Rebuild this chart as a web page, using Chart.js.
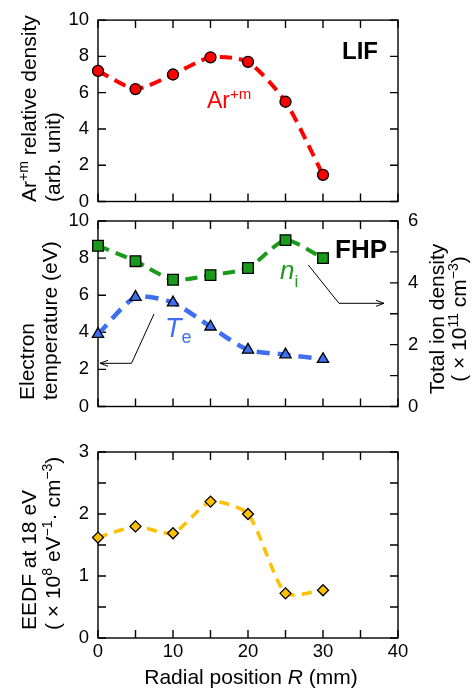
<!DOCTYPE html>
<html><head><meta charset="utf-8">
<script src="https://cdn.jsdelivr.net/npm/chart.js@4.4.0/dist/chart.umd.min.js"></script>
<style>
html,body{margin:0;padding:0;background:#fff;}
#wrap{position:relative;width:475px;height:691px;overflow:hidden;}
canvas{position:absolute;left:0;top:0;}
</style></head><body>
<div id="wrap">
<canvas id="c1" width="475" height="691"></canvas>
<canvas id="c2" width="475" height="691"></canvas>
<canvas id="c3" width="475" height="691"></canvas>
</div>
<script>
// ---------- data ----------
const radialPositions = [0, 5, 10, 15, 20, 25, 30];
const arDensity      = [7.2, 6.2, 7.0, 7.95, 7.7, 5.5, 1.47];
const electronTemp   = [3.9, 5.9, 5.6, 4.3, 3.05, 2.8, 2.55];
const ionDensity     = [5.2, 4.7, 4.1, 4.25, 4.48, 5.38, 4.8];
const eedf18         = [1.62, 1.80, 1.69, 2.20, 2.00, 0.72, 0.77];

const xTickLabels   = [0, 10, 20, 30, 40];
const xTickMarks    = [0, 5, 10, 15, 20, 25, 30, 35, 40];
const arTicks       = [0, 2, 4, 6, 8, 10];
const teTicks       = [0, 2, 4, 6, 8, 10];
const ionTickLabels = [0, 2, 4, 6];
const ionTickMarks  = [0, 1, 2, 3, 4, 5, 6];
const eedfTickLabels = [0, 1, 2, 3];
const eedfTickMarks  = [0, 0.5, 1, 1.5, 2, 2.5, 3];

// ---------- styling ----------
const FAM = '"Liberation Sans", Arial, Helvetica, sans-serif';
const TICKFONT = {family: FAM, size: 18.5};
const RED = '#ff0000', GREEN = '#1a9a1a', BLUE = '#3d6ff0', GOLD = '#ffc000';
const W = 475, H = 691;
const TENSION = 0.22;

function pts(xs, ys) { return xs.map((x, i) => ({x: x, y: ys[i]})); }
function fixedTicks(arr) { return function (s) { s.ticks = arr.map(v => ({value: v})); }; }

const framePlugin = {
  id: 'frame',
  beforeDatasetsDraw(chart, args, o) {
    const ctx = chart.ctx, a = chart.chartArea, L = 8;
    ctx.save();
    ctx.strokeStyle = '#000';
    ctx.lineWidth = 1.4;
    ctx.strokeRect(a.left, a.top, a.right - a.left, a.bottom - a.top);
    ctx.beginPath();
    const xs = chart.scales.x;
    o.xMarks.forEach(v => {
      const p = xs.getPixelForValue(v);
      ctx.moveTo(p, a.bottom); ctx.lineTo(p, a.bottom - L);
      ctx.moveTo(p, a.top); ctx.lineTo(p, a.top + L);
    });
    const ls = chart.scales[o.leftScale];
    o.leftMarks.forEach(v => {
      const p = ls.getPixelForValue(v);
      ctx.moveTo(a.left, p); ctx.lineTo(a.left + L, p);
    });
    const rs = chart.scales[o.rightScale];
    o.rightMarks.forEach(v => {
      const p = rs.getPixelForValue(v);
      ctx.moveTo(a.right, p); ctx.lineTo(a.right - L, p);
    });
    ctx.stroke();
    ctx.restore();
  }
};

// rich text: segments {t,size,dy,style,weight,color}
function drawRich(ctx, segs, x, y, rot, align, color) {
  ctx.save();
  ctx.translate(x, y);
  ctx.rotate(rot || 0);
  ctx.textBaseline = 'alphabetic';
  ctx.textAlign = 'left';
  let total = 0;
  segs.forEach(s => {
    ctx.font = (s.style || 'normal') + ' ' + (s.weight || 'normal') + ' ' + s.size + 'px ' + FAM;
    s._w = ctx.measureText(s.t).width;
    total += s._w;
  });
  let cx = align === 'center' ? -total / 2 : (align === 'right' ? -total : 0);
  segs.forEach(s => {
    ctx.font = (s.style || 'normal') + ' ' + (s.weight || 'normal') + ' ' + s.size + 'px ' + FAM;
    ctx.fillStyle = s.color || color || '#000';
    ctx.fillText(s.t, cx, s.dy || 0);
    cx += s._w;
  });
  ctx.restore();
}

function arrow(ctx, pts, dir) {
  ctx.save();
  ctx.strokeStyle = '#000';
  ctx.lineWidth = 1;
  ctx.beginPath();
  ctx.moveTo(pts[0][0], pts[0][1]);
  for (let i = 1; i < pts.length; i++) ctx.lineTo(pts[i][0], pts[i][1]);
  const t = pts[pts.length - 1];
  ctx.moveTo(t[0] - dir * 8, t[1] - 3);
  ctx.lineTo(t[0], t[1]);
  ctx.lineTo(t[0] - dir * 8, t[1] + 3);
  ctx.stroke();
  ctx.restore();
}

const R90 = -Math.PI / 2;
const textPlugin = {
  id: 'texts',
  afterDraw(chart) {
    const ctx = chart.ctx;
    // panel labels
    drawRich(ctx, [{t: 'LIF', size: 24, weight: 'bold'}], 342, 58.5, 0, 'left');
    drawRich(ctx, [{t: 'FHP', size: 26, weight: 'bold'}], 335, 258, 0, 'left');
    // series labels
    drawRich(ctx, [{t: 'Ar', size: 23}, {t: '+m', size: 15, dy: -9}], 207, 108, 0, 'left', RED);
    drawRich(ctx, [{t: 'n', size: 26, style: 'italic'}, {t: 'i', size: 17, dy: 8}], 280, 279, 0, 'left', GREEN);
    drawRich(ctx, [{t: 'T', size: 27, style: 'italic'}, {t: 'e', size: 18, dy: 6}], 165, 337, 0, 'left', BLUE);
    // arrows
    arrow(ctx, [[154, 314], [131.5, 363.3], [100, 363.3]], -1);
    arrow(ctx, [[308.3, 265], [339, 303.3], [384, 303.3]], 1);
    // axis titles
    drawRich(ctx, [{t: 'Ar', size: 21}, {t: '+m', size: 14, dy: -8}, {t: ' relative density', size: 21}], 36, 202, R90, 'left');
    drawRich(ctx, [{t: '(arb. unit)', size: 21}], 60, 202, R90, 'left');
    drawRich(ctx, [{t: 'Electron', size: 21}], 34, 400, R90, 'left');
    drawRich(ctx, [{t: 'temperature (eV)', size: 21}], 57, 400, R90, 'left');
    drawRich(ctx, [{t: 'Total ion density', size: 21}], 444, 319, R90, 'center');
    drawRich(ctx, [{t: '( \u00d7 10', size: 21}, {t: '11', size: 14, dy: -8}, {t: ' cm', size: 21}, {t: '\u22123', size: 14, dy: -8}, {t: ')', size: 21}], 466, 319, R90, 'center');
    drawRich(ctx, [{t: 'EEDF at 18 eV', size: 21}], 36, 630, R90, 'left');
    drawRich(ctx, [{t: '( \u00d7 10', size: 21}, {t: '8', size: 14, dy: -8}, {t: ' eV', size: 21}, {t: '\u22121', size: 14, dy: -8}, {t: '\u00b7 cm', size: 21}, {t: '\u22123', size: 14, dy: -8}, {t: ')', size: 21}], 60, 630, R90, 'left');
    drawRich(ctx, [{t: 'Radial position ', size: 21}, {t: 'R', size: 21, style: 'italic'}, {t: ' (mm)', size: 21}], 251, 684, 0, 'center');
  }
};

function yScale(min, max, ticksArr, pos, width, pad) {
  return {
    type: 'linear', position: pos, min: min, max: max,
    afterBuildTicks: fixedTicks(ticksArr),
    afterFit(s) { s.width = width; },
    ticks: {font: TICKFONT, color: '#000', padding: pad, autoSkip: false},
    grid: {display: false, drawTicks: false},
    border: {display: false}
  };
}
function lineDS(ys, color, style, radius, bw, dash, yID) {
  return {
    data: pts(radialPositions, ys),
    yAxisID: yID || 'y',
    borderColor: color, borderWidth: bw, borderDash: dash, borderCapStyle: 'butt',
    tension: TENSION, fill: false, clip: false,
    pointStyle: style, pointRadius: radius, pointHoverRadius: radius,
    pointBackgroundColor: color, pointBorderColor: '#000', pointBorderWidth: 1.3
  };
}
const common = {
  responsive: false, animation: false, devicePixelRatio: 1,
  events: [],
};

// ---------- panel 1: LIF ----------
new Chart(document.getElementById('c1'), {
  type: 'line',
  data: {datasets: [lineDS(arDensity, RED, 'circle', 5.5, 4, [12, 7])]},
  options: Object.assign({}, common, {
    layout: {padding: {top: 15, bottom: H - 201.5, left: 0, right: 77}},
    plugins: {legend: {display: false}, tooltip: {enabled: false},
      frame: {xMarks: xTickMarks, leftScale: 'y', leftMarks: arTicks, rightScale: 'y', rightMarks: arTicks}},
    scales: {
      x: {type: 'linear', min: 0, max: 40, display: false},
      y: yScale(0, 10, arTicks, 'left', 98, 9)
    }
  }),
  plugins: [framePlugin]
});

// ---------- panel 2: FHP ----------
new Chart(document.getElementById('c2'), {
  type: 'line',
  data: {datasets: [
    lineDS(ionDensity, GREEN, 'rect', 7.5, 4, [12, 7], 'y2'),
    lineDS(electronTemp, BLUE, 'triangle', 6.5, 4.5, [13, 8], 'y')
  ]},
  options: Object.assign({}, common, {
    layout: {padding: {top: 221, bottom: H - 406.5, left: 0, right: 0}},
    plugins: {legend: {display: false}, tooltip: {enabled: false},
      frame: {xMarks: xTickMarks, leftScale: 'y', leftMarks: teTicks, rightScale: 'y2', rightMarks: ionTickMarks}},
    scales: {
      x: {type: 'linear', min: 0, max: 40, display: false},
      y: yScale(0, 10, teTicks, 'left', 98, 9),
      y2: yScale(0, 6, ionTickLabels, 'right', 77, 10)
    }
  }),
  plugins: [framePlugin]
});

// ---------- panel 3: EEDF ----------
new Chart(document.getElementById('c3'), {
  type: 'line',
  data: {datasets: [lineDS(eedf18, GOLD, 'rectRot', 5.5, 3.5, [10, 7])]},
  options: Object.assign({}, common, {
    layout: {padding: {top: 452, bottom: 0, left: 0, right: 77}},
    plugins: {legend: {display: false}, tooltip: {enabled: false},
      frame: {xMarks: xTickMarks, leftScale: 'y', leftMarks: eedfTickMarks, rightScale: 'y', rightMarks: eedfTickMarks}},
    scales: {
      x: {type: 'linear', min: 0, max: 40, position: 'bottom',
        afterBuildTicks: fixedTicks(xTickLabels),
        afterFit(s) { s.height = H - 638; },
        ticks: {font: TICKFONT, color: '#000', padding: 3, autoSkip: false, maxRotation: 0},
        grid: {display: false, drawTicks: false}, border: {display: false}},
      y: yScale(0, 3, eedfTickLabels, 'left', 98, 9)
    }
  }),
  plugins: [framePlugin, textPlugin]
});
</script>
</body></html>
